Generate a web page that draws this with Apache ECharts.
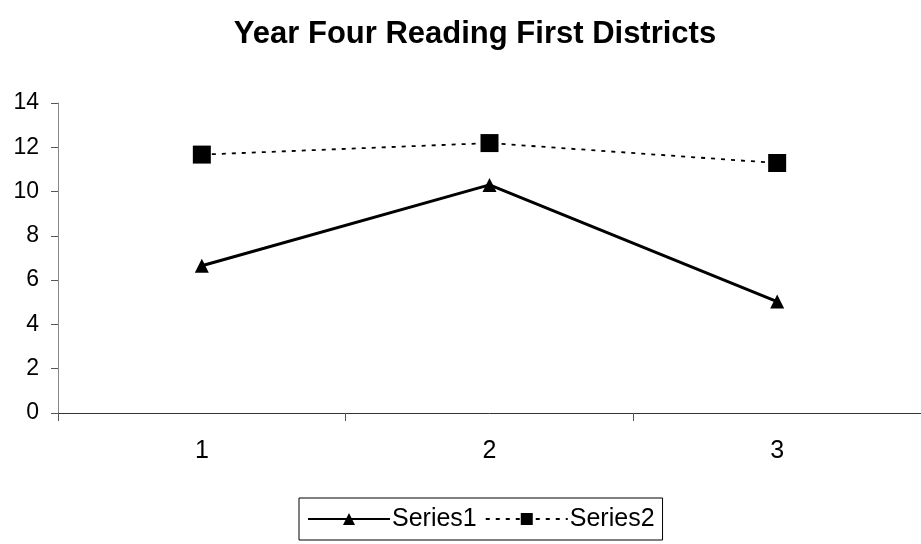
<!DOCTYPE html>
<html>
<head>
<meta charset="utf-8">
<script src="https://cdn.jsdelivr.net/npm/echarts@6/dist/echarts.min.js"></script>
<style>
  html, body { margin: 0; padding: 0; background: #fff; }
  #chart { width: 921px; height: 544px; }
</style>
</head>
<body>
<div id="chart"></div>
<script>
// Categories along the x axis
const categories = ['1', '2', '3'];
// Series values
const series1 = [6.65, 10.3, 5.03];
const series2 = [11.67, 12.19, 11.29];
// Value axis range
const yMin = 0;
const yMax = 14;
const yStep = 2;

const font = 'Liberation Sans, Arial, sans-serif';

const chart = echarts.init(document.getElementById('chart'));
chart.setOption({
  backgroundColor: '#ffffff',
  animation: false,
  title: {
    text: 'Year Four Reading First Districts',
    left: 470,
    textAlign: 'center',
    top: 14,
    textStyle: { fontFamily: font, fontSize: 31, fontWeight: 'bold', color: '#000' }
  },
  grid: { left: 58, top: 103, width: 870, height: 310, containLabel: false },
  legend: {
    left: 299,
    top: 498,
    padding: [8, 8],
    borderColor: '#000',
    borderWidth: 1,
    itemWidth: 82,
    itemHeight: 15,
    itemGap: 8,
    textStyle: { fontFamily: font, fontSize: 25, lineHeight: 26, color: '#000', padding: [0, 0, 0, -3] },
    data: ['Series1', 'Series2']
  },
  xAxis: {
    type: 'category',
    data: categories,
    boundaryGap: true,
    axisLine: { lineStyle: { color: '#333', width: 1 } },
    axisTick: { show: true, length: 8, lineStyle: { color: '#555' } },
    axisLabel: { fontFamily: font, fontSize: 25, color: '#000', margin: 26 },
    splitLine: { show: false }
  },
  yAxis: {
    type: 'value',
    min: yMin,
    max: yMax,
    interval: yStep,
    axisLine: { show: true, lineStyle: { color: '#888', width: 1 } },
    axisTick: { show: true, inside: false, length: 7, lineStyle: { color: '#555' } },
    axisLabel: { fontFamily: font, fontSize: 23, color: '#000', margin: 19 },
    splitLine: { show: false }
  },
  series: [
    {
      name: 'Series1',
      type: 'line',
      data: series1,
      symbol: 'triangle',
      symbolSize: 14,
      itemStyle: { color: '#000' },
      lineStyle: { color: '#000', width: 3 }
    },
    {
      name: 'Series2',
      type: 'line',
      data: series2,
      symbol: 'rect',
      symbolSize: 18,
      itemStyle: { color: '#000' },
      lineStyle: { color: '#000', width: 1.8, type: [4, 6] }
    }
  ]
});
</script>
</body>
</html>
